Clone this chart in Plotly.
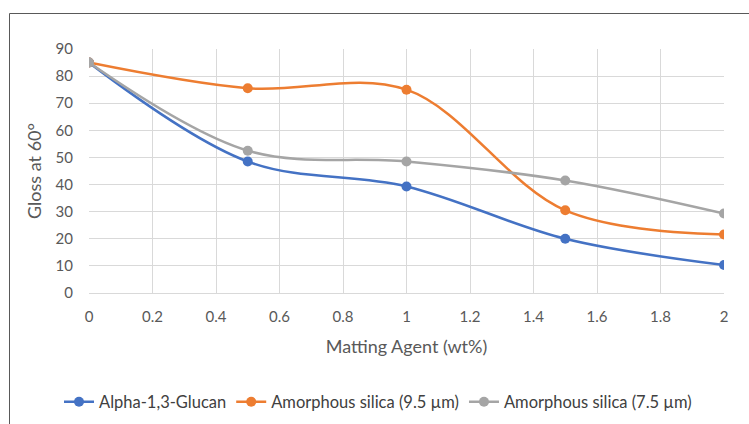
import plotly.graph_objects as go

x_vals = [0, 0.5, 1, 1.5, 2]
glucan = [85, 48.5, 39.3, 20, 10.3]
silica_95 = [85, 75.5, 75, 30.5, 21.6]
silica_75 = [85, 52.5, 48.5, 41.5, 29.3]
names = ["Alpha-1,3-Glucan", "Amorphous silica (9.5 µm)", "Amorphous silica (7.5 µm)"]
colors = ["#4472C4", "#ED7D31", "#A5A5A5"]
x_ticks = [0, 0.2, 0.4, 0.6, 0.8, 1, 1.2, 1.4, 1.6, 1.8, 2]
x_tick_text = ["0", "0.2", "0.4", "0.6", "0.8", "1", "1.2", "1.4", "1.6", "1.8", "2"]
y_ticks = [0, 10, 20, 30, 40, 50, 60, 70, 80, 90]

FONT = "Lato, Noto Sans, sans-serif"

fig = go.Figure()
for name, ys, c in zip(names, [glucan, silica_95, silica_75], colors):
    fig.add_trace(go.Scatter(
        x=x_vals, y=ys, name=name, mode="lines+markers",
        line=dict(color=c, width=2.5, shape="spline", smoothing=1.0),
        marker=dict(color=c, size=10),
    ))

L, R, T, B = 89, 25, 49, 131
W, H = 749, 424
pw, ph = W - L - R, H - T - B

def px2x(px):
    return (px - L) / pw

def py2y(py):
    return (H - B - py) / ph

fig.update_layout(
    width=W, height=H,
    margin=dict(l=L, r=R, t=T, b=B, autoexpand=False),
    paper_bgcolor="white", plot_bgcolor="white",
    font=dict(family=FONT, size=15, color="#595959"),
    showlegend=True,
    legend=dict(orientation="h", xanchor="center", yanchor="middle",
                x=px2x(378), y=py2y(402), font=dict(size=16.5, color="#404040"),
                itemwidth=30, tracegroupgap=0),
    xaxis=dict(range=[0, 2], tickvals=x_ticks, ticktext=x_tick_text,
               automargin=False,
               showgrid=True, gridcolor="#D9D9D9", gridwidth=1,
               showline=True, linecolor="#D9D9D9", linewidth=1,
               zeroline=False, ticks="", ticklabelstandoff=10,
               tickfont=dict(size=15, color="#595959"),
               title=dict(text="Matting Agent (wt%)", standoff=16,
                          font=dict(size=18, color="#595959"))),
    yaxis=dict(range=[0, 90], tickvals=y_ticks,
               automargin=False,
               showgrid=True, gridcolor="#D9D9D9", gridwidth=1,
               showline=False, zeroline=False, ticks="", ticklabelstandoff=15,
               tickfont=dict(size=15, color="#595959"),
               title=dict(text="Gloss at 60°", standoff=9,
                          font=dict(size=18, color="#595959"))),
)

# chart frame (top and left edges visible)
fig.add_shape(type="line", xref="paper", yref="paper",
              x0=px2x(9.5), x1=px2x(760), y0=py2y(13.5), y1=py2y(13.5),
              line=dict(color="#595959", width=1))
fig.add_shape(type="line", xref="paper", yref="paper",
              x0=px2x(9.5), x1=px2x(9.5), y0=py2y(13.5), y1=py2y(430),
              line=dict(color="#595959", width=1))

fig.write_html("out.html")
